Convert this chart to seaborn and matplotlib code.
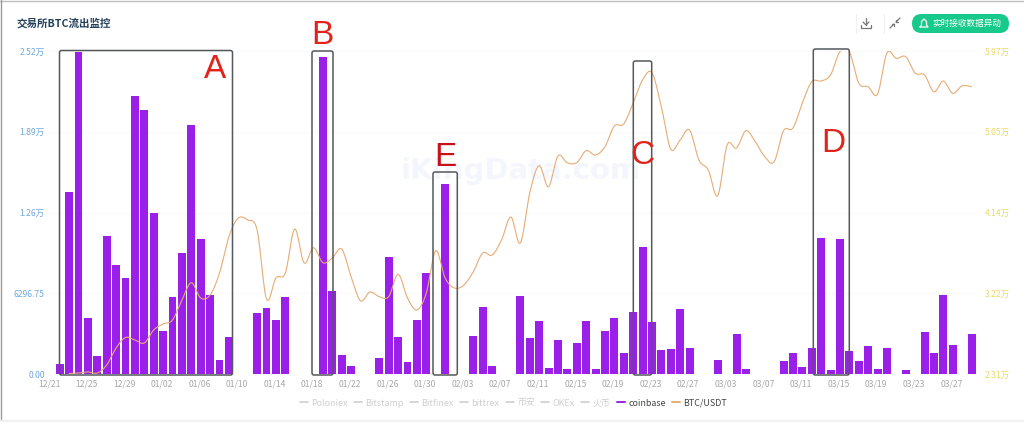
import numpy as np
import pandas as pd
import matplotlib
matplotlib.use("Agg")
import matplotlib.pyplot as plt
from matplotlib.lines import Line2D
from matplotlib.patches import FancyBboxPatch
from matplotlib.transforms import IdentityTransform
import seaborn as sns

title = "交易所BTC流出监控"
button_text = "实时接收数据异动"
watermark = "iKingData.com"
date_labels = ["12/21","12/25","12/29","01/02","01/06","01/10","01/14","01/18","01/22","01/26",
               "01/30","02/03","02/07","02/11","02/15","02/19","02/23","02/27","03/03","03/07",
               "03/11","03/15","03/19","03/23","03/27"]
left_ticks = [0, 6296.75, 12593.5, 18890.25, 25187]
left_labels = ["0.00", "6296.75", "1.26万", "1.89万", "2.52万"]
right_ticks = [23100, 32250, 41400, 50550, 59700]
right_labels = ["2.31万", "3.22万", "4.14万", "5.05万", "5.97万"]
legend_names = ["Poloniex","Bitstamp","Bitfinex","bittrex","币安","OKEx","火币","coinbase","BTC/USDT"]

coinbase = [780,14220,25120,4370,1430,10760,8500,7510,21710,20590,12560,3350,6010,9460,19420,10530,
            6160,1090,2890,0,0,4760,5170,4240,6030,0,0,0,24730,6470,1460,620,0,0,1250,9130,2890,910,
            4240,7880,0,14820,0,0,2940,5250,600,0,0,6080,2810,4130,440,2650,390,2440,4110,370,3380,
            4390,1610,4810,9930,4030,1870,1930,5050,2000,0,0,1120,0,3120,410,0,0,0,990,1660,520,2030,
            10610,290,10530,1820,1010,2160,370,2030,0,290,0,3300,1660,6160,2240,0,3140]
btc_usdt = [23160,23210,23330,23210,24120,26050,27240,26950,26610,28090,28770,29220,31480,33440,31710,
            32050,34540,38660,40770,40550,39420,31600,33980,34540,39530,35680,37410,35710,36240,37260,
            34120,31400,32390,31860,31860,34400,31710,30350,32280,37070,33980,32840,33180,34690,36810,
            36580,38280,40890,37940,43610,46700,44320,47800,47040,47040,48400,47910,48850,51200,51430,
            53800,56410,57240,53390,48590,49610,50750,47350,46210,43300,49050,48710,50670,49420,47720,
            47150,50670,50970,53800,56220,56300,56980,59620,59620,56070,55650,54820,59470,58870,59050,
            57200,56980,55080,56300,54900,55760,55650]

W, H = 1024, 422
sns.set_theme(style="white")
CJK = ["Noto Sans CJK SC", "DejaVu Sans"]
plt.rcParams["font.family"] = CJK

fig = plt.figure(figsize=(W / 100, H / 100), dpi=100, facecolor="white")
L, R, T, B = 49, 978, 51, 374
ax = fig.add_axes([L / W, 1 - B / H, (R - L) / W, (B - T) / H])
ax.set_facecolor("none")

BAR = "#9A1FE8"
LINE = "#E6AC74"
bars = pd.DataFrame({"day": np.arange(len(coinbase)), "flow": coinbase})
sns.barplot(data=bars, x="day", y="flow", native_scale=True, width=0.85, color=BAR,
            saturation=1, linewidth=0, ax=ax, zorder=2)
ax.set_xlim(-1.138, 97.69)
ax.set_ylim(0, 25187)
ax.set_xlabel("")
ax.set_ylabel("")
ax.set_xticks(-1.138 + 4 * np.arange(len(date_labels)), date_labels)
ax.set_yticks(left_ticks, left_labels)
ax.tick_params(axis="x", length=0, pad=4, labelsize=6.2, labelcolor="#A8A8A8")
ax.tick_params(axis="y", length=0, pad=3, labelsize=6.2, labelcolor="#6FA8DC")
ax.grid(axis="y", color="#FAFAFA", lw=0.8)
ax.set_axisbelow(True)
sns.despine(ax=ax, left=True, bottom=True)


def smooth(x, y, n=12):
    """Catmull-Rom rendering of the line, like the source chart's smooth option."""
    x, y = np.asarray(x, float), np.asarray(y, float)
    px = np.r_[x[0], x, x[-1]]
    py = np.r_[y[0], y, y[-1]]
    t = np.linspace(0, 1, n, endpoint=False)[:, None]
    cr = lambda p: 0.5 * (2 * p[1:-2] + (p[2:-1] - p[:-3]) * t
                          + (2 * p[:-3] - 5 * p[1:-2] + 4 * p[2:-1] - p[3:]) * t ** 2
                          + (3 * p[1:-2] - p[:-3] - 3 * p[2:-1] + p[3:]) * t ** 3)
    return np.r_[cr(px).T.ravel(), x[-1]], np.r_[cr(py).T.ravel(), y[-1]]


ax2 = ax.twinx()
ax2.set_facecolor("none")
lx, ly = smooth(np.arange(1, len(btc_usdt) + 1), btc_usdt)
sns.lineplot(x=lx, y=ly, color=LINE, lw=0.8, ax=ax2, zorder=3, errorbar=None, sort=False)
ax2.set_xlim(ax.get_xlim())
ax2.set_ylim(23100, 59700)
ax2.set_ylabel("")
ax2.set_yticks(right_ticks, right_labels)
ax2.tick_params(axis="y", length=0, pad=5, labelsize=6.2, labelcolor="#EBD96B")
ax2.grid(False)
sns.despine(ax=ax2, left=True, bottom=True, right=True)

dT = IdentityTransform()


def ftext(x, y, s, **kw):
    return fig.text(x / W, 1 - y / H, s, **kw)


ftext(17, 23, title, fontsize=7.6, fontweight="bold", color="#24405A", ha="left", va="center")
ftext(521, 171, watermark, fontsize=21, fontweight="bold", color="#F3F6FC", ha="center",
      va="center", family="DejaVu Sans", zorder=-5)

# annotation boxes drawn over the screenshot
boxes = [(59.5, 50.5, 232.5, 375), (312, 51, 333, 375), (433, 172, 457.3, 375),
         (633.3, 61, 651.7, 375), (813.3, 49, 849.3, 375)]
for x0, y0, x1, y1 in boxes:
    fig.add_artist(FancyBboxPatch((x0, H - y1), x1 - x0, y1 - y0, boxstyle="round,pad=0,rounding_size=2",
                                  fc="none", ec="#55585C", lw=1.1, transform=dT, zorder=5))
letters = [("A", 215, 69, "#E2231A"), ("B", 322, 35, "#E2231A"), ("E", 445, 158, "#C8101A"),
           ("C", 642, 155, "#E2231A"), ("D", 833, 143, "#E2231A")]
for s, x, y, c in letters:
    ftext(x, y, s, fontsize=24, color=c, ha="center", va="center", family="Liberation Sans", zorder=6)

# legend
handles = [Line2D([], [], color="#D0D0D0", lw=1.2) for _ in legend_names[:7]]
handles += [Line2D([], [], color=BAR, lw=1.4), Line2D([], [], color=LINE, lw=1.4)]
leg = fig.legend(handles, legend_names, loc="center", bbox_to_anchor=(513.5 / W, 1 - 403 / H), ncols=9,
                 frameon=False, fontsize=6.4, handlelength=0.9, handletextpad=0.4, columnspacing=0.7,
                 borderpad=0)
for t, c in zip(leg.get_texts(), ["#CFCFCF"] * 7 + ["#444444", "#444444"]):
    t.set_color(c)

# toolbar
fig.add_artist(FancyBboxPatch((912, H - 33), 97, 19, boxstyle="round,pad=0,rounding_size=9.5", fc="#17C98A",
                              ec="none", transform=dT, zorder=4))
ftext(966.5, 23.5, button_text, fontsize=6.2, color="white", ha="center", va="center", zorder=5)
bell = [(920, 27), (921.5, 25), (921.5, 21.5), (924, 19), (926.5, 21.5), (926.5, 25), (928, 27), (920, 27)]
fig.add_artist(Line2D([p[0] for p in bell], [H - p[1] for p in bell], color="white", lw=0.9, transform=dT, zorder=5))
icons = [([861, 861, 871, 871], [25, 28, 28, 25]), ([866, 866], [18, 25]), ([863, 866, 869], [22, 25, 22]),
         ([890, 894], [28, 24]), ([896, 900], [22, 18]), ([892, 894, 894], [24, 24, 26]), ([896, 896, 898], [20, 22, 22])]
for xs, ys in icons:
    fig.add_artist(Line2D(xs, [H - v for v in ys], color="#777777", lw=0.9, transform=dT, zorder=5))
for x in (856, 884):
    fig.add_artist(Line2D([x, x], [H - 33, H - 14], color="#F0F0F0", lw=0.8, transform=dT))

# screenshot edges
fig.add_artist(Line2D([0, W], [H - 0.5, H - 0.5], color="#BDBDBD", lw=1.0, transform=dT))
fig.add_artist(Line2D([0.5, 0.5], [0, H], color="#9A9A9A", lw=1.0, transform=dT))
fig.add_artist(Line2D([0, W], [1, 1], color="#F1F1F1", lw=2.5, transform=dT))

fig.savefig("out.png", dpi=100)
